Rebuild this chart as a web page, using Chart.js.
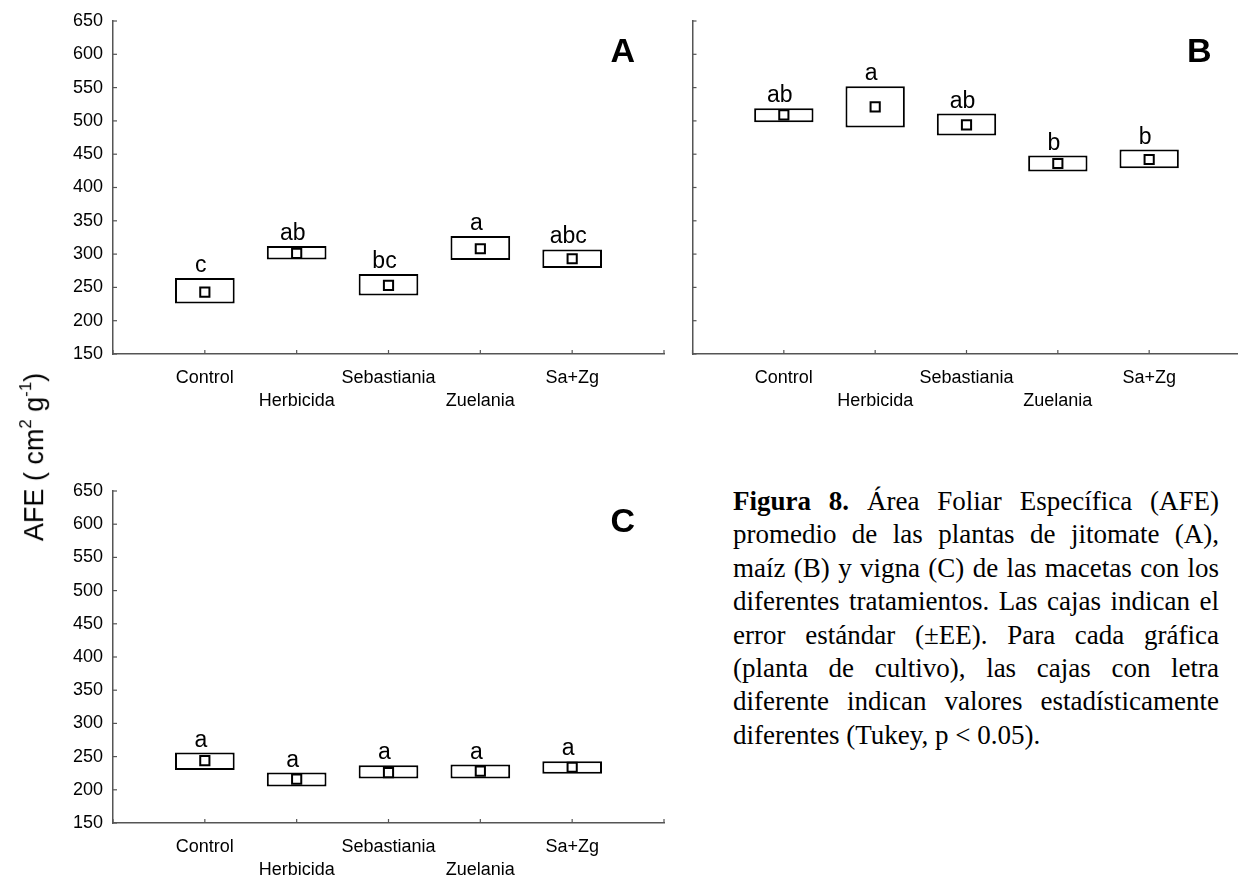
<!DOCTYPE html>
<html>
<head>
<meta charset="utf-8">
<script src="https://cdn.jsdelivr.net/npm/chart.js@4.4.1/dist/chart.umd.min.js"></script>
<style>
  body { margin: 0; background: #fff; width: 1238px; height: 879px; position: relative; overflow: hidden; }
  canvas { position: absolute; }
  #ytitle {
    position: absolute; left: 33px; top: 457px;
    transform: translate(-50%, -50%) rotate(-90deg);
    font: 27px "Liberation Sans", Arial, sans-serif; white-space: nowrap; color: #000;
  }
  #ytitle sup { font-size: 0.62em; vertical-align: 0.7em; }
  #caption {
    position: absolute; left: 733px; top: 485px; width: 486px;
    font: 27px "Liberation Serif", "Times New Roman", serif; line-height: 33.4px; color: #000;
  }
  #caption div { text-align: justify; text-align-last: justify; white-space: nowrap; }
  #caption div.last { text-align-last: left; }
</style>
</head>
<body>
<canvas id="chartA" width="630" height="414" style="left:50px;top:0px"></canvas>
<canvas id="chartB" width="573" height="414" style="left:680px;top:0px"></canvas>
<canvas id="chartC" width="630" height="409" style="left:50px;top:470px"></canvas>
<div id="ytitle">AFE ( cm<sup>2</sup> g<sup>-1</sup>)</div>
<div id="caption">
  <div><b>Figura 8.</b> Área Foliar Específica (AFE)</div>
  <div>promedio de las plantas de jitomate (A),</div>
  <div>maíz (B) y vigna (C) de las macetas con los</div>
  <div>diferentes tratamientos. Las cajas indican el</div>
  <div>error estándar (±EE). Para cada gráfica</div>
  <div>(planta de cultivo), las cajas con letra</div>
  <div>diferente indican valores estadísticamente</div>
  <div class="last">diferentes (Tukey, p &lt; 0.05).</div>
</div>
<script>
// ======== DATA ========
const categories = ["Control", "Herbicida", "Sebastiania", "Zuelania", "Sa+Zg"];
const yTickValues = [150, 200, 250, 300, 350, 400, 450, 500, 550, 600, 650];

// A - jitomate
const meanA = [243, 301, 253, 308, 293];
const lowA = [226, 292, 238, 291, 279];
const highA = [264, 312, 270, 327, 307];
const lettersA = ["c", "ab", "bc", "a", "abc"];

// B - maiz
const meanB = [509, 521, 494, 436, 442];
const lowB = [498, 490, 478, 424, 429];
const highB = [519, 552, 511, 448, 457];
const lettersB = ["ab", "a", "ab", "b", "b"];

// C - vigna
const meanC = [244, 216, 226, 228, 234];
const lowC = [230, 205, 217, 217, 224];
const highC = [256, 226, 237, 238, 243];
const lettersC = ["a", "a", "a", "a", "a"];

const AXIS_COLOR = "#555";
const SANS = '"Liberation Sans", Arial, sans-serif';

// ======== INWARD TICKS, LETTERS, PANEL TAG ========
const panelDecor = {
    id: "panelDecor",
    afterDatasetsDraw(chart, args, opts) {
        const { ctx } = chart;
        const x = chart.scales.x;
        const y = chart.scales.y;
        ctx.save();
        ctx.strokeStyle = AXIS_COLOR;
        ctx.lineWidth = 1.2;
        y.ticks.forEach((t) => {
            const py = y.getPixelForValue(t.value);
            ctx.beginPath();
            ctx.moveTo(x.left, py);
            ctx.lineTo(x.left + 4, py);
            ctx.stroke();
        });
        x.ticks.forEach((t) => {
            const px = x.getPixelForValue(t.value);
            ctx.beginPath();
            ctx.moveTo(px, y.bottom);
            ctx.lineTo(px, y.bottom - 4);
            ctx.stroke();
        });

        ctx.fillStyle = "#000";
        ctx.textAlign = "center";
        ctx.textBaseline = "alphabetic";
        ctx.font = "23px " + SANS;
        opts.letters.forEach((l, i) => {
            ctx.fillText(l, x.getPixelForValue(i + 1) - 4, y.getPixelForValue(opts.highs[i]) - 6);
        });

        ctx.font = "bold 34px " + SANS;
        ctx.textBaseline = "middle";
        ctx.fillText(opts.tag, x.getPixelForValue(5.55), y.getPixelForValue(603));
        ctx.restore();
    },
};

function makePanel(id, means, lows, highs, letters, tag, yWidth, xHeight, padRight, showYLabels) {
    new Chart(document.getElementById(id), {
        type: "bar",
        data: {
            datasets: [
                {
                    type: "line",
                    data: means.map((m, i) => ({ x: i + 1, y: m })),
                    showLine: false,
                    pointStyle: "rect",
                    pointRadius: 6.5,
                    pointBorderWidth: 2,
                    pointBackgroundColor: "#fff",
                    pointBorderColor: "#000",
                    order: 0,
                },
                {
                    data: lows.map((lo, i) => ({ x: i + 1, y: [lo, highs[i]] })),
                    backgroundColor: "#fff",
                    borderColor: "#000",
                    borderWidth: 2,
                    borderSkipped: false,
                    categoryPercentage: 1,
                    barPercentage: 0.65,
                    order: 1,
                },
            ],
        },
        options: {
            responsive: false,
            animation: false,
            layout: { autoPadding: false, padding: { top: 21, right: padRight, left: 0, bottom: 0 } },
            plugins: {
                legend: { display: false },
                tooltip: { enabled: false },
                panelDecor: { letters: letters, highs: highs, tag: tag },
            },
            scales: {
                x: {
                    type: "linear",
                    min: 0,
                    max: 6,
                    offset: false,
                    grid: { display: false, drawTicks: false, offset: false },
                    border: { display: true, color: AXIS_COLOR, width: 1.5 },
                    afterBuildTicks: (s) => {
                        s.ticks = [0, 1, 2, 3, 4, 5, 6].map((v) => ({ value: v }));
                    },
                    afterFit: (s) => { s.height = xHeight; },
                    ticks: {
                        autoSkip: false,
                        maxRotation: 0,
                        padding: 12.5,
                        color: "#000",
                        font: { family: SANS, size: 18, lineHeight: 1.28 },
                        callback: (v) => {
                            if (v < 1 || v > 5) return "";
                            const name = categories[v - 1];
                            return (v - 1) % 2 === 0 ? [name, ""] : ["", name];
                        },
                    },
                },
                y: {
                    min: 150,
                    max: 650,
                    grid: { display: false, drawTicks: false },
                    border: { display: true, color: AXIS_COLOR, width: 1.5 },
                    afterBuildTicks: (s) => {
                        s.ticks = yTickValues.map((v) => ({ value: v }));
                    },
                    afterFit: (s) => { s.width = yWidth; },
                    ticks: {
                        display: showYLabels,
                        padding: 10,
                        color: "#000",
                        font: { family: SANS, size: 18 },
                    },
                },
            },
        },
        plugins: [panelDecor],
    });
}

makePanel("chartA", meanA, lowA, highA, lettersA, "A", 63, 60, 16, true);
makePanel("chartB", meanB, lowB, highB, lettersB, "B", 10, 60, 0, false);
makePanel("chartC", meanC, lowC, highC, lettersC, "C", 63, 56, 16, true);
</script>
</body>
</html>
